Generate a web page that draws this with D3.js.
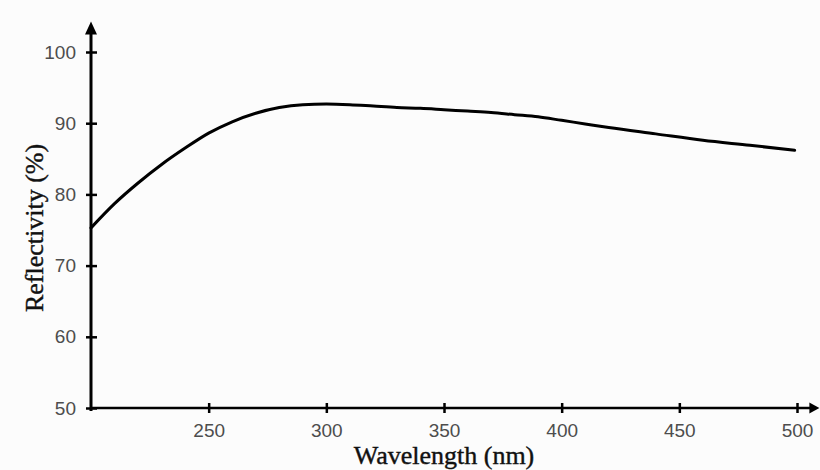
<!DOCTYPE html>
<html>
<head>
<meta charset="utf-8">
<script src="https://cdn.jsdelivr.net/npm/d3@7"></script>
<style>
  html, body { margin: 0; padding: 0; background: #fcfcfc; }
  svg { display: block; }
</style>
</head>
<body>
<div id="chart"></div>
<script>
// ---- data ----
const wavelengths  = [200, 210, 220, 230, 240, 250, 260, 270, 280, 290, 300, 310, 320, 330, 340, 350, 360, 370, 380, 390, 400, 410, 420, 440, 460, 480, 499];
const reflectivity = [75.3, 78.7, 81.6, 84.2, 86.5, 88.6, 90.2, 91.4, 92.2, 92.6, 92.7, 92.6, 92.4, 92.2, 92.1, 91.9, 91.7, 91.5, 91.2, 90.9, 90.4, 89.9, 89.4, 88.5, 87.6, 86.9, 86.2];
const xTickValues  = [250, 300, 350, 400, 450, 500];
const yTickValues  = [50, 60, 70, 80, 90, 100];
const xTitle = "Wavelength (nm)";
const yTitle = "Reflectivity (%)";

const W = 820, H = 470;
const svg = d3.select("#chart").append("svg").attr("width", W).attr("height", H);

const x = d3.scaleLinear().domain([200, 500]).range([91, 797]);
const y = d3.scaleLinear().domain([50, 100]).range([408, 52]);
const xAxisEnd = 509.5;   // data units where the arrow tip sits
const yAxisEnd = 104.3;

// axis lines with arrows
svg.append("line")
  .attr("x1", x(200)).attr("x2", x(xAxisEnd) - 6)
  .attr("y1", y(50)).attr("y2", y(50))
  .attr("stroke", "#000").attr("stroke-width", 2.5);
svg.append("line")
  .attr("x1", x(200)).attr("x2", x(200))
  .attr("y1", y(50) + 3).attr("y2", y(yAxisEnd) + 8)
  .attr("stroke", "#000").attr("stroke-width", 3);

// arrowheads
const tx = x(xAxisEnd), ty = y(50);
svg.append("path")
  .attr("d", `M${tx},${ty} L${tx - 10},${ty - 5.5} L${tx - 10},${ty + 5.5} Z`)
  .attr("fill", "#000");
const ax = x(200), ay = y(yAxisEnd);
svg.append("path")
  .attr("d", `M${ax},${ay} L${ax - 6},${ay + 13} L${ax + 6},${ay + 13} Z`)
  .attr("fill", "#000");

// axes (ticks + labels) via d3-axis
const gx = svg.append("g")
  .attr("transform", `translate(0,${y(50)})`)
  .call(d3.axisBottom(x).tickValues(xTickValues).tickSize(5).tickPadding(11));
gx.select(".domain").remove();
gx.selectAll(".tick line").attr("y1", -5).attr("y2", 5)
  .attr("stroke", "#000").attr("stroke-width", 2.5);
gx.selectAll(".tick text")
  .attr("font-family", "'Liberation Sans', Arial, sans-serif")
  .attr("font-size", 19).attr("fill", "#4d4d4d");

const gy = svg.append("g")
  .attr("transform", `translate(${x(200)},0)`)
  .call(d3.axisLeft(y).tickValues(yTickValues).tickSize(5).tickPadding(10));
gy.select(".domain").remove();
gy.selectAll(".tick line").attr("x1", -5).attr("x2", 6)
  .attr("stroke", "#000").attr("stroke-width", 2.5);
gy.selectAll(".tick text")
  .attr("font-family", "'Liberation Sans', Arial, sans-serif")
  .attr("font-size", 19).attr("fill", "#4d4d4d");

// curve
const line = d3.line()
  .x((d, i) => x(wavelengths[i]))
  .y(d => y(d))
  .curve(d3.curveMonotoneX);
svg.append("path")
  .datum(reflectivity)
  .attr("d", line)
  .attr("fill", "none")
  .attr("stroke", "#000")
  .attr("stroke-width", 3)
  .attr("stroke-linejoin", "round")
  .attr("stroke-linecap", "round");

// titles
svg.append("text")
  .attr("x", 444).attr("y", 464)
  .attr("text-anchor", "middle")
  .attr("font-family", "'Liberation Serif', 'Times New Roman', serif")
  .attr("font-size", 26).attr("fill", "#111")
  .attr("stroke", "#111").attr("stroke-width", 0.4)
  .text(xTitle);

svg.append("text")
  .attr("transform", "translate(43,228) rotate(-90)")
  .attr("text-anchor", "middle")
  .attr("font-family", "'Liberation Serif', 'Times New Roman', serif")
  .attr("font-size", 26).attr("fill", "#111")
  .attr("stroke", "#111").attr("stroke-width", 0.4)
  .text(yTitle);
</script>
</body>
</html>
